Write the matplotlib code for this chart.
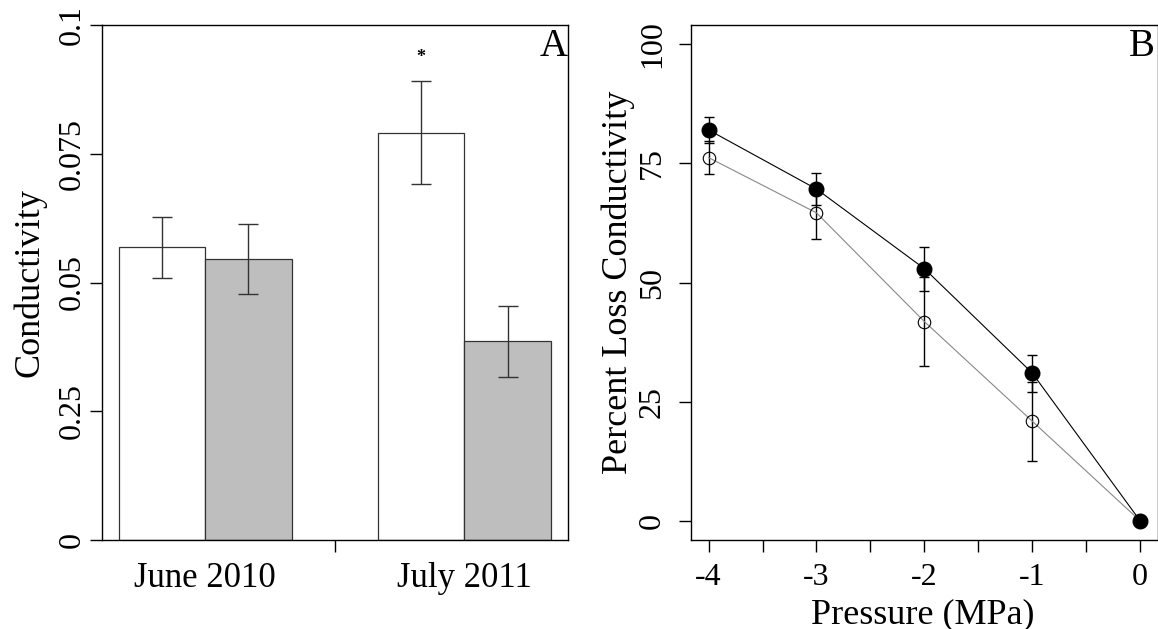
import matplotlib
matplotlib.use("Agg")
import matplotlib.pyplot as plt
import numpy as np

plt.rcParams['font.family'] = ['Liberation Serif', 'DejaVu Serif']

# ---- Panel A data ----
groups = ['June 2010', 'July 2011']
white_vals = [0.0568, 0.0791]
white_err = [0.0059, 0.0100]
gray_vals = [0.0546, 0.0386]
gray_err = [0.0068, 0.0069]
yticks_a = [0, 0.025, 0.05, 0.075, 0.1]
yticklabels_a = ['0', '0.25', '0.05', '0.075', '0.1']
sig_group = 1          # asterisk over July 2011 white bar
sig_y = 0.0928

# ---- Panel B data ----
pressure = [-4, -3, -2, -1, 0]
filled_vals = [82.0, 69.6, 52.9, 31.0, 0.0]
filled_err = [2.8, 3.3, 4.6, 3.9, 0.0]
open_vals = [76.2, 64.6, 41.8, 20.9, 0.0]
open_err = [3.5, 5.4, 9.3, 8.3, 0.0]
yticks_b = [0, 25, 50, 75, 100]
xticks_b = [-4, -3, -2, -1, 0]
xminor_b = [-3.5, -2.5, -1.5, -0.5]

W, H = 1158, 629
fig = plt.figure(figsize=(W / 100, H / 100), dpi=100)

def frac(x0, x1, ytop, ybot):
    return [x0 / W, 1 - ybot / H, (x1 - x0) / W, (ybot - ytop) / H]

TICK_FS = 23
LAB_FS = 26
TL = 8.6  # tick length in points
LW = 1.0

# ================= Panel A =================
axA = fig.add_axes(frac(101.7, 568, 25, 540))
centers = np.array([1.0, 4.0])
axA.bar(centers - 0.5, white_vals, width=1.0, color='white', edgecolor='#333333', linewidth=0.9, zorder=2)
axA.bar(centers + 0.5, gray_vals, width=1.0, color='#bebebe', edgecolor='#333333', linewidth=0.9, zorder=2)
axA.errorbar(centers - 0.5, white_vals, yerr=white_err, fmt='none', ecolor='#333333',
             elinewidth=1.0, capsize=7.2, capthick=1.0, zorder=3)
axA.errorbar(centers + 0.5, gray_vals, yerr=gray_err, fmt='none', ecolor='#333333',
             elinewidth=1.0, capsize=7.2, capthick=1.0, zorder=3)
axA.text(centers[sig_group] - 0.5, sig_y, '*', ha='center', va='baseline', fontsize=13,
         fontweight='bold')
axA.set_xlim(-0.2, 5.2)
axA.set_ylim(0, 0.1)
axA.set_yticks(yticks_a)
axA.set_yticklabels(yticklabels_a, rotation=90, va='center', fontsize=TICK_FS)
axA.tick_params(axis='y', direction='out', length=TL, width=LW, pad=2.3)
axA.set_xticks(centers)
axA.set_xticklabels(groups, fontsize=25)
axA.tick_params(axis='x', which='major', length=0, pad=TL + 7.5)
axA.set_xticks([2.5], minor=True)
axA.tick_params(axis='x', which='minor', direction='out', length=TL, width=LW)
axA.set_ylabel('Conductivity', fontsize=LAB_FS)
axA.yaxis.label.set_verticalalignment('center')
axA.yaxis.set_label_coords((30 - 101.7) / 466.3, 0.5)
axA.text(0.999, (540 - 56) / 515, 'A', transform=axA.transAxes, ha='right', va='baseline', fontsize=28)
for s in axA.spines.values():
    s.set_linewidth(LW)

# ================= Panel B =================
axB = fig.add_axes(frac(691.3, 1157.5, 25, 540))
axB.errorbar(pressure, open_vals, yerr=open_err, fmt='none', ecolor='black',
             elinewidth=1.0, capsize=3.6, capthick=1.0, zorder=2)
axB.errorbar(pressure, filled_vals, yerr=filled_err, fmt='none', ecolor='black',
             elinewidth=1.0, capsize=3.6, capthick=1.0, zorder=2)
axB.plot(pressure, open_vals, color='#888888', linewidth=0.8, zorder=3)
axB.plot(pressure, open_vals, linestyle='none', marker='o', markersize=9,
         markerfacecolor='none', markeredgecolor='black', markeredgewidth=0.8, zorder=4)
axB.plot(pressure, filled_vals, color='black', linewidth=0.8, zorder=5)
axB.plot(pressure, filled_vals, linestyle='none', marker='o', markersize=10.5,
         markerfacecolor='black', markeredgecolor='black', zorder=6)
axB.set_xlim(-4.16, 0.16)
axB.set_ylim(-4, 104)
axB.set_yticks(yticks_b)
axB.set_yticklabels([str(v) for v in yticks_b], rotation=90, va='center', fontsize=TICK_FS)
axB.tick_params(axis='y', direction='out', length=TL, width=LW, pad=9.0)
axB.set_xticks(xticks_b)
axB.set_xticklabels([str(v) for v in xticks_b], fontsize=TICK_FS)
axB.set_xticks(xminor_b, minor=True)
axB.tick_params(axis='x', which='both', direction='out', length=TL, width=LW, pad=8.0)
axB.set_ylabel('Percent Loss Conductivity', fontsize=LAB_FS)
axB.yaxis.label.set_verticalalignment('center')
axB.yaxis.set_label_coords((618 - 691.3) / 466.2, 0.5)
axB.set_xlabel('Pressure (MPa)', fontsize=LAB_FS)
axB.xaxis.label.set_verticalalignment('center')
axB.xaxis.set_label_coords(0.4965, (540 - 614.5) / 515)
axB.text(0.995, (540 - 56) / 515, 'B', transform=axB.transAxes, ha='right', va='baseline', fontsize=28)
for s in axB.spines.values():
    s.set_linewidth(LW)

fig.savefig('out.png', dpi=100)
